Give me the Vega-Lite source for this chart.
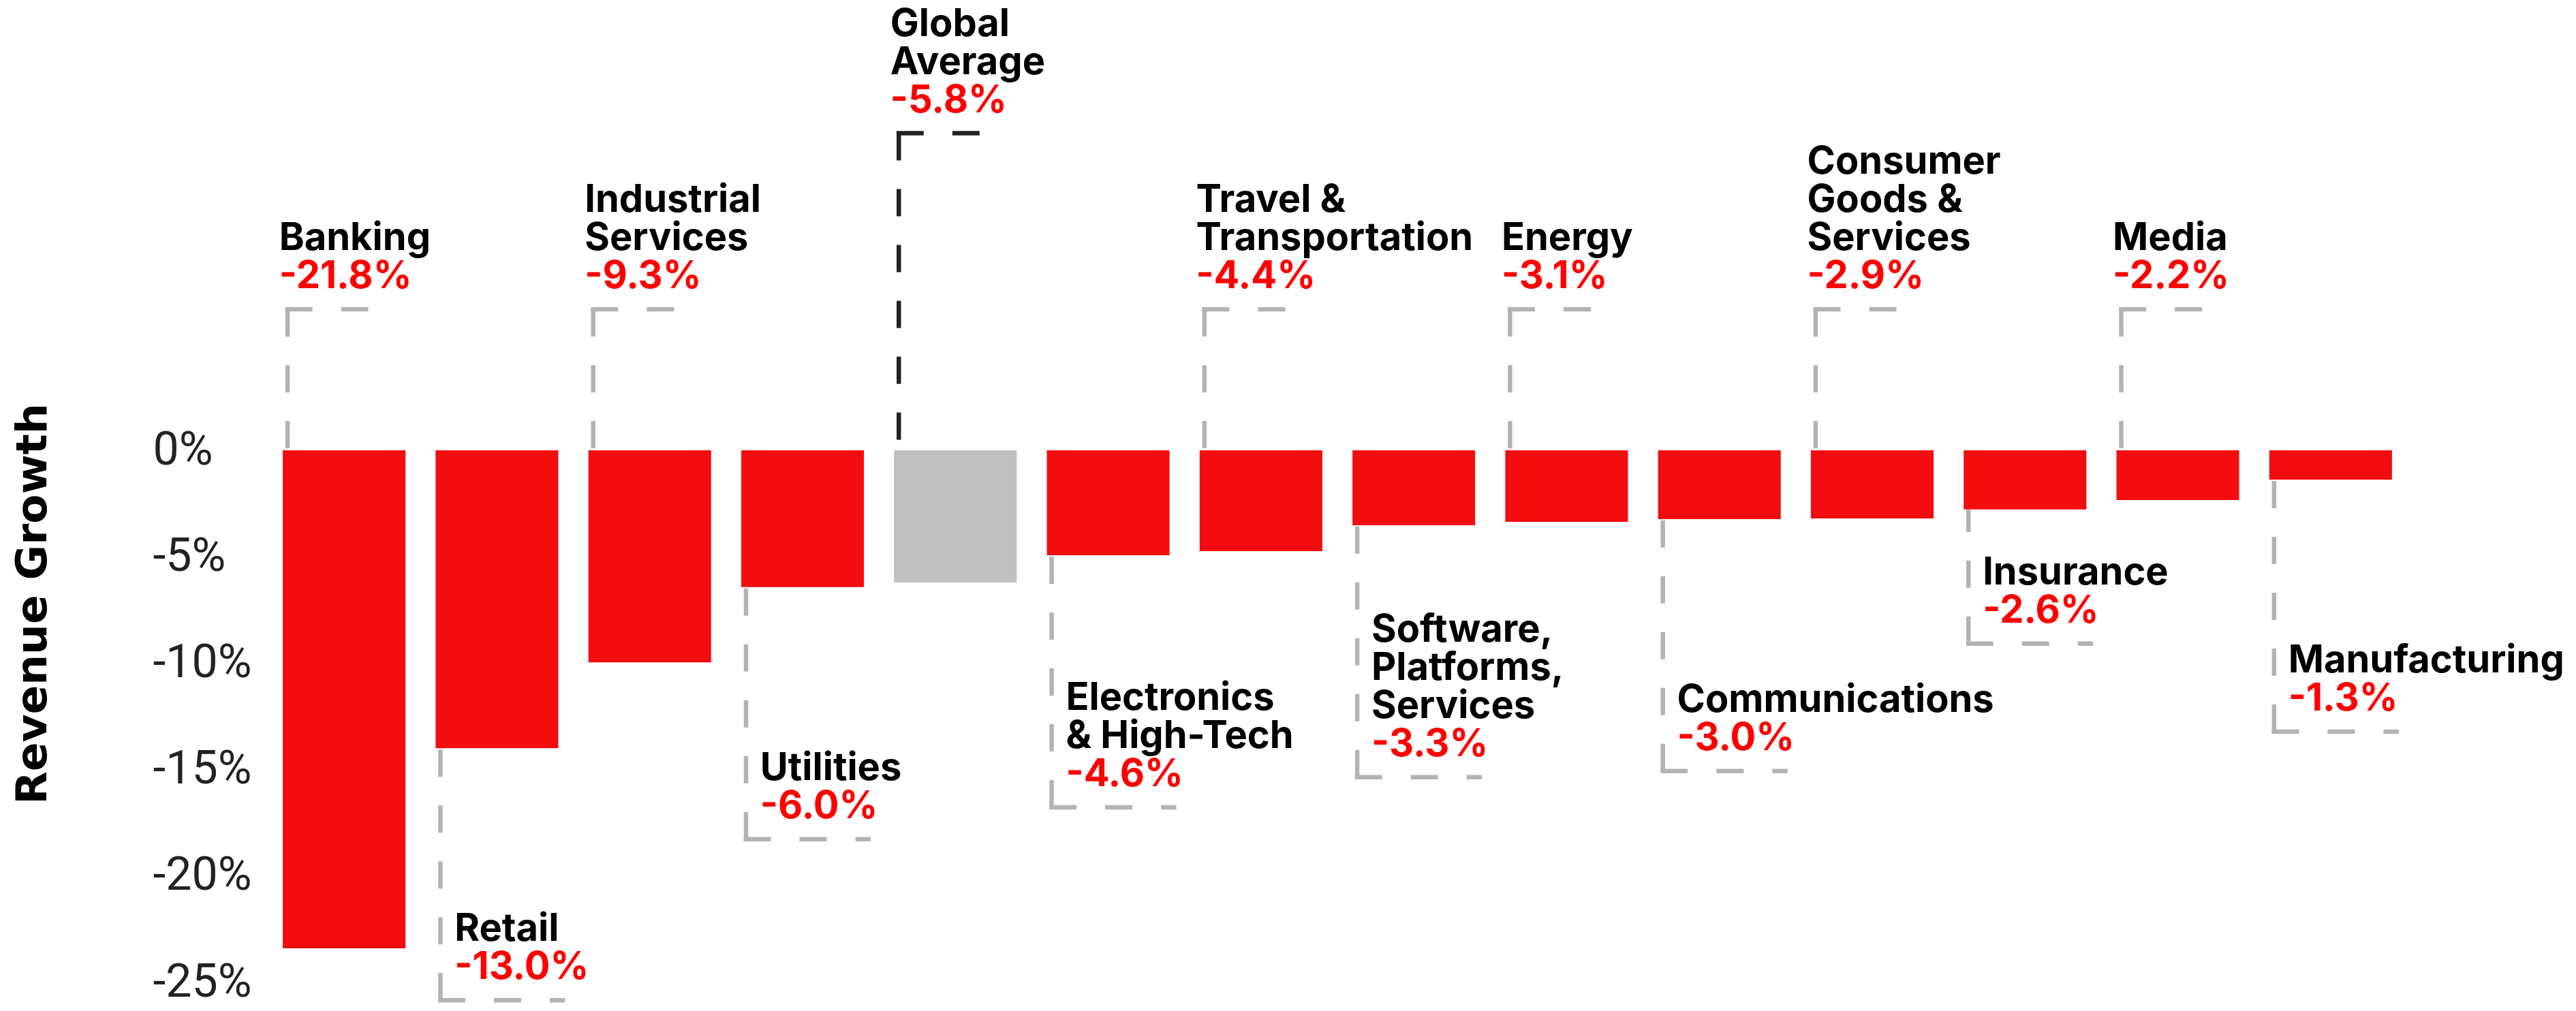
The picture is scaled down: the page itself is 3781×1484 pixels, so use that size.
{
  "$schema": "https://vega.github.io/schema/vega-lite/v6.json",
  "width": 3140,
  "height": 781,
  "autosize": {"type": "none"},
  "padding": {"left": 393, "top": 661, "right": 248, "bottom": 42},
  "background": "white",
  "config": {"view": {"stroke": null}},
  "data": {
    "values": [
      {"industry": "Banking", "kind": "industry", "value": -23.4, "label": "-21.8%", "side": "above", "leader": "short"},
      {"industry": "Retail", "kind": "industry", "value": -14.0, "label": "-13.0%", "side": "below", "leader": "long"},
      {"industry": "Industrial\nServices", "kind": "industry", "value": -9.96, "label": "-9.3%", "side": "above", "leader": "short"},
      {"industry": "Utilities", "kind": "industry", "value": -6.43, "label": "-6.0%", "side": "below", "leader": "long"},
      {"industry": "Global\nAverage", "kind": "average", "value": -6.21, "label": "-5.8%", "side": "above", "leader": "long"},
      {"industry": "Electronics\n& High-Tech", "kind": "industry", "value": -4.93, "label": "-4.6%", "side": "below", "leader": "long"},
      {"industry": "Travel &\nTransportation", "kind": "industry", "value": -4.74, "label": "-4.4%", "side": "above", "leader": "short"},
      {"industry": "Software,\nPlatforms,\nServices", "kind": "industry", "value": -3.52, "label": "-3.3%", "side": "below", "leader": "long"},
      {"industry": "Energy", "kind": "industry", "value": -3.36, "label": "-3.1%", "side": "above", "leader": "short"},
      {"industry": "Communications", "kind": "industry", "value": -3.23, "label": "-3.0%", "side": "below", "leader": "long"},
      {"industry": "Consumer\nGoods &\nServices", "kind": "industry", "value": -3.2, "label": "-2.9%", "side": "above", "leader": "short"},
      {"industry": "Insurance", "kind": "industry", "value": -2.78, "label": "-2.6%", "side": "below", "leader": "short"},
      {"industry": "Media", "kind": "industry", "value": -2.34, "label": "-2.2%", "side": "above", "leader": "short"},
      {"industry": "Manufacturing", "kind": "industry", "value": -1.38, "label": "-1.3%", "side": "below", "leader": "long"}
    ]
  },
  "transform": [
    {"calculate": "datum.side === 'above' ? (datum.leader === 'long' ? 14.9 : 6.63) : datum.value - (datum.leader === 'long' ? 11.84 : 6.3)", "as": "corner"},
    {"calculate": "datum.side === 'above' ? 0 : datum.value", "as": "base"},
    {"calculate": "length(split(datum.industry, '\\n'))", "as": "lines"}
  ],
  "encoding": {
    "x": {"field": "industry", "type": "nominal", "sort": null, "axis": null,
          "scale": {"paddingInner": 0.197, "paddingOuter": 0.0985}}
  },
  "resolve": {"axis": {"y": "independent"}},
  "layer": [
    {
      "mark": {"type": "bar"},
      "encoding": {
        "y": {"field": "value", "type": "quantitative",
              "scale": {"domain": [-25, 0], "nice": false},
              "axis": {
                "title": "Revenue Growth",
                "values": [0, -5, -10, -15, -20, -25],
                "labelExpr": "datum.value === 0 ? '\u2004' + '0%' : datum.value + '%'",
                "domain": false, "ticks": false, "tickSize": 0, "grid": false,
                "labelAlign": "left", "labelPadding": 169, "labelBaseline": "middle",
                "labelFont": "Roboto", "labelFontSize": 68, "labelColor": "#222222",
                "labelOverlap": false,
                "titleFont": "DejaVu Sans", "titleFontWeight": "bold", "titleFontSize": 63,
                "titleColor": "#000000", "titleAngle": -90, "titleAlign": "center",
                "titleBaseline": "alphabetic", "titleX": -326, "titleY": 225
              }},
        "color": {"condition": {"test": "datum.kind === 'average'", "value": "#bfbfbf"}, "value": "#f30d10"}
      }
    },
    {
      "mark": {"type": "rule", "strokeDash": [40, 42], "strokeWidth": 6.5},
      "encoding": {
        "x": {"field": "industry", "type": "nominal", "sort": null, "bandPosition": 0.039},
        "y": {"field": "corner", "type": "quantitative", "axis": null},
        "y2": {"field": "base"},
        "color": {"condition": {"test": "datum.kind === 'average'", "value": "#222222"}, "value": "#b3b3b3"}
      }
    },
    {
      "transform": [{"filter": "datum.side === 'above'"}],
      "mark": {"type": "rule", "strokeDash": [40, 42], "strokeWidth": 6.5},
      "encoding": {
        "x": {"field": "industry", "type": "nominal", "sort": null, "bandPosition": 0.02},
        "x2": {"field": "industry", "bandPosition": 0.705},
        "y": {"field": "corner", "type": "quantitative", "axis": null},
        "color": {"condition": {"test": "datum.kind === 'average'", "value": "#222222"}, "value": "#b3b3b3"}
      }
    },
    {
      "transform": [{"filter": "datum.side === 'below'"}],
      "mark": {"type": "rule", "strokeDash": [40, 42], "strokeWidth": 6.5, "color": "#b3b3b3"},
      "encoding": {
        "x": {"field": "industry", "type": "nominal", "sort": null, "bandPosition": 0.02},
        "x2": {"field": "industry", "bandPosition": 1.055},
        "y": {"field": "corner", "type": "quantitative", "axis": null}
      }
    },
    {
      "transform": [{"filter": "datum.side === 'above' && datum.lines === 1"}],
      "mark": {"type": "text", "font": "Inter", "fontWeight": "bold", "fontSize": 56, "lineHeight": 56,
               "lineBreak": "\n", "align": "left", "baseline": "alphabetic", "dy": -87, "color": "#000000"},
      "encoding": {
        "x": {"field": "industry", "type": "nominal", "sort": null, "bandPosition": -0.03},
        "y": {"field": "corner", "type": "quantitative", "axis": null},
        "text": {"field": "industry", "type": "nominal"}
      }
    },
    {
      "transform": [{"filter": "datum.side === 'above' && datum.lines === 2"}],
      "mark": {"type": "text", "font": "Inter", "fontWeight": "bold", "fontSize": 56, "lineHeight": 56,
               "lineBreak": "\n", "align": "left", "baseline": "alphabetic", "dy": -143, "color": "#000000"},
      "encoding": {
        "x": {"field": "industry", "type": "nominal", "sort": null, "bandPosition": -0.03},
        "y": {"field": "corner", "type": "quantitative", "axis": null},
        "text": {"field": "industry", "type": "nominal"}
      }
    },
    {
      "transform": [{"filter": "datum.side === 'above' && datum.lines === 3"}],
      "mark": {"type": "text", "font": "Inter", "fontWeight": "bold", "fontSize": 56, "lineHeight": 56,
               "lineBreak": "\n", "align": "left", "baseline": "alphabetic", "dy": -199, "color": "#000000"},
      "encoding": {
        "x": {"field": "industry", "type": "nominal", "sort": null, "bandPosition": -0.03},
        "y": {"field": "corner", "type": "quantitative", "axis": null},
        "text": {"field": "industry", "type": "nominal"}
      }
    },
    {
      "transform": [{"filter": "datum.side === 'above'"}],
      "mark": {"type": "text", "font": "Inter", "fontWeight": "bold", "fontSize": 56,
               "align": "left", "baseline": "alphabetic", "dy": -31, "color": "#ff0000"},
      "encoding": {
        "x": {"field": "industry", "type": "nominal", "sort": null, "bandPosition": -0.03},
        "y": {"field": "corner", "type": "quantitative", "axis": null},
        "text": {"field": "label", "type": "nominal"}
      }
    },
    {
      "transform": [{"filter": "datum.side === 'below' && datum.lines === 1"}],
      "mark": {"type": "text", "font": "Inter", "fontWeight": "bold", "fontSize": 56, "lineHeight": 56,
               "lineBreak": "\n", "align": "left", "baseline": "alphabetic", "dy": -87, "color": "#000000"},
      "encoding": {
        "x": {"field": "industry", "type": "nominal", "sort": null, "bandPosition": 0.155},
        "y": {"field": "corner", "type": "quantitative", "axis": null},
        "text": {"field": "industry", "type": "nominal"}
      }
    },
    {
      "transform": [{"filter": "datum.side === 'below' && datum.lines === 2"}],
      "mark": {"type": "text", "font": "Inter", "fontWeight": "bold", "fontSize": 56, "lineHeight": 56,
               "lineBreak": "\n", "align": "left", "baseline": "alphabetic", "dy": -143, "color": "#000000"},
      "encoding": {
        "x": {"field": "industry", "type": "nominal", "sort": null, "bandPosition": 0.155},
        "y": {"field": "corner", "type": "quantitative", "axis": null},
        "text": {"field": "industry", "type": "nominal"}
      }
    },
    {
      "transform": [{"filter": "datum.side === 'below' && datum.lines === 3"}],
      "mark": {"type": "text", "font": "Inter", "fontWeight": "bold", "fontSize": 56, "lineHeight": 56,
               "lineBreak": "\n", "align": "left", "baseline": "alphabetic", "dy": -199, "color": "#000000"},
      "encoding": {
        "x": {"field": "industry", "type": "nominal", "sort": null, "bandPosition": 0.155},
        "y": {"field": "corner", "type": "quantitative", "axis": null},
        "text": {"field": "industry", "type": "nominal"}
      }
    },
    {
      "transform": [{"filter": "datum.side === 'below'"}],
      "mark": {"type": "text", "font": "Inter", "fontWeight": "bold", "fontSize": 56,
               "align": "left", "baseline": "alphabetic", "dy": -31, "color": "#ff0000"},
      "encoding": {
        "x": {"field": "industry", "type": "nominal", "sort": null, "bandPosition": 0.155},
        "y": {"field": "corner", "type": "quantitative", "axis": null},
        "text": {"field": "label", "type": "nominal"}
      }
    }
  ]
}
